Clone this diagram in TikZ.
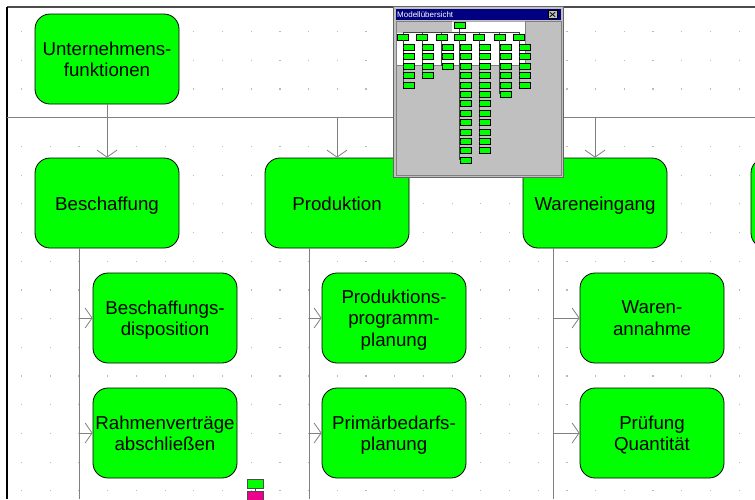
\documentclass[tikz,border=0pt]{standalone}
\usepackage{fontspec}
\setmainfont{Liberation Sans}
\usetikzlibrary{arrows.meta}
\definecolor{arisgreen}{RGB}{0,255,0}
\definecolor{winblue}{RGB}{0,0,128}
\definecolor{wingray}{RGB}{192,192,192}
\definecolor{linegray}{RGB}{128,128,128}

\begin{document}
\begin{tikzpicture}[x=1pt,y=-1pt,
    fkt/.style={draw=black, line width=0.8pt, fill=arisgreen, rounded corners=15pt,
        minimum width=144pt, minimum height=90pt, inner sep=0pt, align=center,
        font=\fontsize{18.7}{21.5}\selectfont, text depth=0pt,
        execute at begin node={\rule{0pt}{15.4pt}}},
    kante/.style={draw=linegray, line width=1pt},
    pfeil/.style={kante, -{Straight Barb[length=7pt,width=20pt,line width=0.8pt]}},
    mini/.style={draw=black, line width=0.6pt, fill=arisgreen, minimum width=11pt,
        minimum height=6pt, inner sep=0pt},
    minilinie/.style={draw=black!75, line width=0.5pt}]
    \useasboundingbox (0,0) rectangle (755,499);
    \clip (0,0) rectangle (755,499);
    \fill[white] (0,0) rectangle (755,499);

    \foreach \i in {0,...,25}
        \foreach \j in {0,...,16}
            \fill[gray!55] ({21+28.7*\i},{31+28.7*\j}) rectangle ++(1.2,1.2);

    \draw[black!70, line width=1.5pt] (7,7) -- (755,7);
    \draw[black, line width=2pt] (7,7) -- (7,499);

    \node[fkt] (Unternehmen) at (107,59) {Unternehmens-\\funktionen};
    \node[fkt] (Beschaffung) at (107,203) {Beschaffung};
    \node[fkt] (Produktion) at (337,203) {Produktion};
    \node[fkt] (Wareneingang) at (595,203) {Wareneingang};
    \node[fkt] (Rechts) at (823,203) {};
    \node[fkt] (BDispo) at (165,318) {Beschaffungs-\\disposition};
    \node[fkt] (Rahmen) at (165,433) {Rahmenverträge\\abschließen};
    \node[fkt] (PProgramm) at (394,318) {Produktions-\\programm-\\planung};
    \node[fkt] (PBedarf) at (394,433) {Primärbedarfs-\\planung};
    \node[fkt] (WAnnahme) at (652,318) {Waren-\\annahme};
    \node[fkt] (WPruefung) at (652,433) {Prüfung\\Quantität};

    \coordinate (BusL) at (7,117);
    \coordinate (BusR) at (755,117);
    \coordinate (BStamm) at (79,499);
    \coordinate (PStamm) at (309,499);
    \coordinate (WStamm) at (553,499);

    \draw[kante] (BusL) -- (BusR);
    \draw[kante] (Unternehmen.south) -- (Unternehmen.south |- BusL);
    \draw[pfeil] (Beschaffung.north |- BusL) -- (Beschaffung.north);
    \draw[pfeil] (Produktion.north |- BusL) -- (Produktion.north);
    \draw[pfeil] (Wareneingang.north |- BusL) -- (Wareneingang.north);
    \draw[pfeil] (Rechts.north |- BusL) -- (Rechts.north);

    \draw[kante] (Beschaffung.south -| BStamm) -- (BStamm);
    \draw[kante] (Produktion.south -| PStamm) -- (PStamm);
    \draw[kante] (Wareneingang.south -| WStamm) -- (WStamm);
    \draw[pfeil] (BDispo.west -| BStamm) -- (BDispo.west);
    \draw[pfeil] (Rahmen.west -| BStamm) -- (Rahmen.west);
    \draw[pfeil] (PProgramm.west -| PStamm) -- (PProgramm.west);
    \draw[pfeil] (PBedarf.west -| PStamm) -- (PBedarf.west);
    \draw[pfeil] (WAnnahme.west -| WStamm) -- (WAnnahme.west);
    \draw[pfeil] (WPruefung.west -| WStamm) -- (WPruefung.west);

    \node[draw=black!70, fill=arisgreen, minimum width=16pt, minimum height=9pt, inner sep=0pt] (IconA) at (255,483.5) {};
    \node[draw=black!70, fill=magenta, minimum width=16pt, minimum height=9pt, inner sep=0pt] (IconB) at (255,496) {};
    \draw[black!70] (IconA) -- (IconB);

    \fill[wingray] (393,6) rectangle (564,178);
    \draw[black!60, line width=1pt] (393.5,6.5) rectangle (563.5,177.5);
    \fill[winblue] (396,9) rectangle (561,20);
    \node[anchor=west, text=white, font=\fontsize{8}{8}\selectfont, inner sep=0pt] (Titel) at (397,14.5) {Modellübersicht};
    \node[draw=black, fill=wingray, minimum width=9pt, minimum height=8pt, inner sep=0pt] (Zu) at (552.5,14.5) {};
    \draw[line width=0.8pt] ([shift={(2,2)}]Zu.north west) -- ([shift={(-2,-2)}]Zu.south east);
    \draw[line width=0.8pt] ([shift={(-2,2)}]Zu.north east) -- ([shift={(2,-2)}]Zu.south west);
    \draw[linegray] (396,21) rectangle (561,175);
    \fill[white] (452,21.5) -- (525,21.5) -- (525,65) -- (397,65) -- (397,33) -- (452,33) -- cycle;
    \draw[linegray] (525,21.5) -- (525,65) -- (397,65);

    \node[mini] (MTop) at (459.5,25.5) {};
    \draw[minilinie] (MTop.south) -- (459.5,32.3);
    \draw[minilinie] (402.8,32.3) -- (519,32.3);
    \foreach \x/\anz [count=\c] in {402.8/5, 422.2/4, 441.5/3, 459.7/13, 478.8/12, 499.5/6, 519/5} {
        \node[mini] (M\c) at (\x,37) {};
        \draw[minilinie] (M\c.north) -- (\x,32.3);
        \draw[minilinie] (M\c.south) -- ({\x},{47.2+9.4*(\anz-1)});
        \foreach \k in {1,...,\anz} {
            \node[mini] (M\c-\k) at ({\x+6},{47.2+9.4*(\k-1)}) {};
            \draw[minilinie] ({\x},{47.2+9.4*(\k-1)}) -- (M\c-\k.west);
        }
    }
\end{tikzpicture}
\end{document}
